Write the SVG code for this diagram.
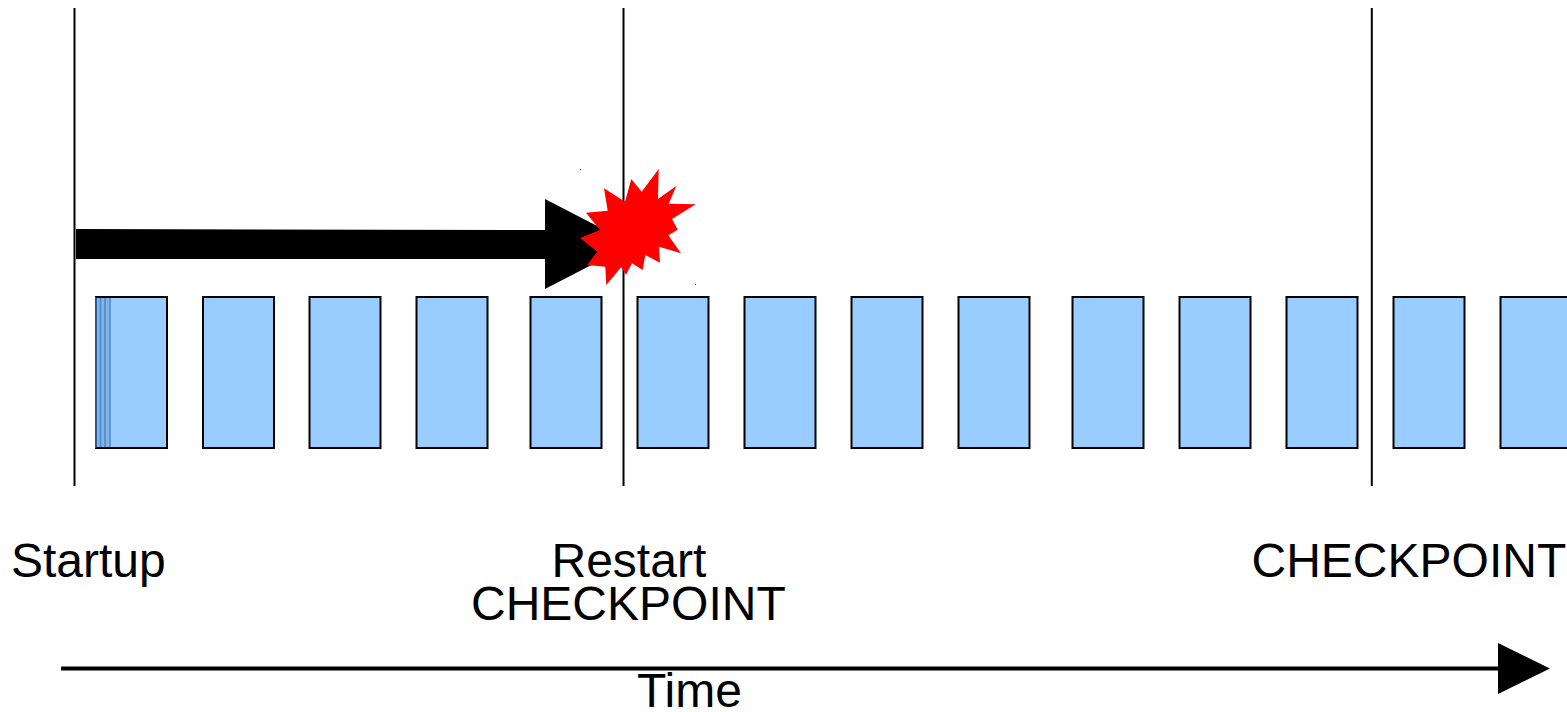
<svg xmlns="http://www.w3.org/2000/svg" width="1567" height="712" viewBox="0 0 1567 712">
<style>
.box{fill:#99ccff;stroke:#000;stroke-width:2}
.v{stroke:#000;stroke-width:2;fill:none}
text{font-family:"Liberation Sans",Arial,sans-serif;font-size:48px;fill:#000}
</style>
<rect width="1567" height="712" fill="#fff"/>
<g id="connectors">
<path class="v" d="M74.500 8V486"/>
<path class="v" d="M623.500 8V486"/>
<path class="v" d="M1371.800 8V486"/>
<path d="M61 668.500H1500" stroke="#000" stroke-width="4" fill="none"/>
<path d="M1498 643L1550 668.500L1498 694Z" fill="#000"/>
</g>
<g id="run-arrow"><path d="M76 229L545 230V199L603 229V259L545 289V259L76 259Z" fill="#000"/></g>
<g id="task-0">
<rect class="box" x="96" y="297" width="71" height="151"/>
<path d="M96 298H110V447H96Z" fill="#4f86c6" opacity=".35"/>
<path d="M100.500 297V448M105 297V448M110 297V448" stroke="#4f86c6" stroke-width="1.500" fill="none"/>
<path d="M96 297V448" stroke="#3a6ea8" stroke-width="1.500" fill="none"/>
<path d="M96 297H167M96 448H167" stroke="#000" stroke-width="2" fill="none"/>
</g>
<g id="task-1"><rect class="box" x="203" y="297" width="71" height="151"/></g>
<g id="task-2"><rect class="box" x="309.500" y="297" width="71" height="151"/></g>
<g id="task-3"><rect class="box" x="416.500" y="297" width="71" height="151"/></g>
<g id="task-4"><rect class="box" x="530.500" y="297" width="71" height="151"/></g>
<g id="task-5"><rect class="box" x="637.500" y="297" width="71" height="151"/></g>
<g id="task-6"><rect class="box" x="744.500" y="297" width="71" height="151"/></g>
<g id="task-7"><rect class="box" x="851.500" y="297" width="71" height="151"/></g>
<g id="task-8"><rect class="box" x="958.500" y="297" width="71" height="151"/></g>
<g id="task-9"><rect class="box" x="1072.500" y="297" width="71" height="151"/></g>
<g id="task-10"><rect class="box" x="1179.500" y="297" width="71" height="151"/></g>
<g id="task-11"><rect class="box" x="1286.500" y="297" width="71" height="151"/></g>
<g id="task-12"><rect class="box" x="1393.500" y="297" width="71" height="151"/></g>
<g id="task-13"><rect class="box" x="1500.500" y="297" width="71" height="151"/></g>
<g id="burst"><path d="M658.700 169L641.700 191.700L631.300 179L625 201.700L604 188.300L607.700 210.700L586 212.700L600 230L580 238L597.300 251.700L587 265L605.300 266.700L606.300 285L621 267.300L626 274.700L632 263.300L642.700 270L645.300 255L660 262.700L659 246.700L681 253.300L668.300 235.300L677.700 229.700L672 219L695.700 204.300L668.700 203.700L676.300 186L658 199Z" fill="#f00"/>
<rect x="580" y="169" width="1" height="1" fill="#f00"/><rect x="695" y="284" width="1" height="1" fill="#f00"/></g>
<g id="label-startup"><text x="11" y="577">Startup</text></g>
<g id="label-restart"><text x="551.500" y="577">Restart</text><text x="471" y="620">CHECKPOINT</text></g>
<g id="label-checkpoint"><text x="1251.500" y="577">CHECKPOINT</text></g>
<g id="label-time"><text x="637" y="707">Time</text></g>
</svg>
